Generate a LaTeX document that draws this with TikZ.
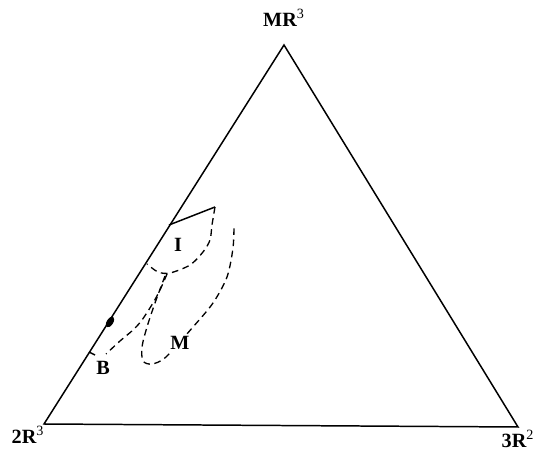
\documentclass[tikz,border=0pt]{standalone}
\usepackage{fontspec}
\setmainfont{Liberation Serif}
\begin{document}
\begin{tikzpicture}[x=0.02cm, y=-0.02cm, line width=0.85pt,
  region/.style={line width=0.75pt, dash pattern=on 3.8pt off 2.6pt},
  corner/.style={font=\fontsize{11.5}{13}\selectfont\bfseries},
  field/.style={font=\fontsize{11.5}{13}\selectfont\bfseries, inner sep=1pt}]
\useasboundingbox (0,0) rectangle (535,456);
% triangle
\coordinate (top) at (284,45);
\coordinate (left) at (44,424);
\coordinate (right) at (518,427);
\draw (left) -- (top) -- (right) -- cycle;
\node[corner] (mr) at (284,18) {MR\textsuperscript{\mdseries 3}};
\node[corner] (rtwo) at (28,435) {2R\textsuperscript{\mdseries 3}};
\node[corner] (rthree) at (518,439) {3R\textsuperscript{\mdseries 2}};
% region I
\draw (169,225) -- (215,207);
\draw[region] plot[smooth] coordinates {(215,207) (212,225) (210,240) (203,252) (190,265) (170,273) (158,272) (147,264)};
% region B
\draw[region] plot[smooth] coordinates {(167,274) (160,290) (153,303) (142,320) (133,330) (120,341) (106,354)};
\draw (89,352) -- (95,355);
% region M
\draw[region] plot[smooth] coordinates {(165,276) (155,303) (147,327) (142,347) (143,361) (152,364) (166,357) (193,327) (213,303) (227,277) (233,248) (234,225)};
\fill[rotate around={57.7:(110,322)}] (110,322) ellipse [x radius=6, y radius=3.2];
\node[field, fill=white] (mlab) at (180,343) {M};
\node[field] (ilab) at (178,245) {I};
\node[field] (blab) at (103,368) {B};
\end{tikzpicture}
\end{document}
